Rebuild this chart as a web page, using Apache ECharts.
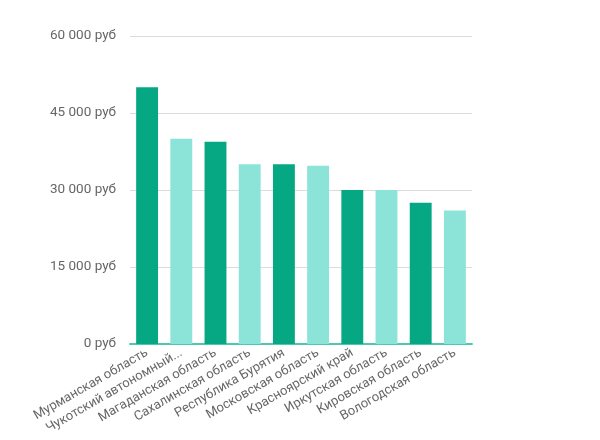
<!DOCTYPE html>
<html>
<head>
<meta charset="utf-8">
<script src="https://cdn.jsdelivr.net/npm/echarts@6/dist/echarts.min.js"></script>
<style>
  html, body { margin: 0; padding: 0; background: #fff; }
  #chart { width: 600px; height: 440px; }
</style>
</head>
<body>
<div id="chart"></div>
<script>
// регионы и средняя зарплата
const regions = [
  'Мурманская область',
  'Чукотский автономный округ',
  'Магаданская область',
  'Сахалинская область',
  'Республика Бурятия',
  'Московская область',
  'Красноярский край',
  'Иркутская область',
  'Кировская область',
  'Вологодская область'
]
const salaries = [50000, 40000, 39400, 35000, 35000, 34700, 30000, 30000, 27500, 26000]
const yTicks = [0, 15000, 30000, 45000, 60000]

const darkColor = '#05a882'
const lightColor = '#8ce3d8'

const chart = echarts.init(document.getElementById('chart'))

function fmt(v) {
  return String(v).replace(/\B(?=(\d{3})+(?!\d))/g, ' ') + ' руб'
}

chart.setOption({
  animation: false,
  backgroundColor: '#fff',
  grid: {
    left: 130,
    right: 128,
    top: 36,
    bottom: 96
  },
  xAxis: {
    type: 'category',
    data: regions,
    axisLine: { lineStyle: { color: '#4fc9ae', width: 2 } },
    axisTick: { show: false },
    axisLabel: {
      interval: 0,
      rotate: 30,
      margin: 8,
      color: '#666',
      fontFamily: 'Roboto',
      fontSize: 13,
      formatter: (v) => v.length > 22 ? v.slice(0, 20) + '...' : v
    }
  },
  yAxis: {
    type: 'value',
    min: yTicks[0],
    max: yTicks[yTicks.length - 1],
    interval: 15000,
    axisLine: { show: false },
    axisTick: { show: false },
    splitLine: { lineStyle: { color: '#dcdcdc', width: 1 } },
    axisLabel: {
      margin: 14,
      color: '#666',
      fontFamily: 'Roboto',
      fontSize: 13.5,
      formatter: fmt
    }
  },
  series: [
    {
      type: 'bar',
      barWidth: '64%',
      data: salaries.map((v, i) => ({
        value: v,
        itemStyle: { color: i % 2 === 0 ? darkColor : lightColor }
      }))
    }
  ]
})
</script>
</body>
</html>
